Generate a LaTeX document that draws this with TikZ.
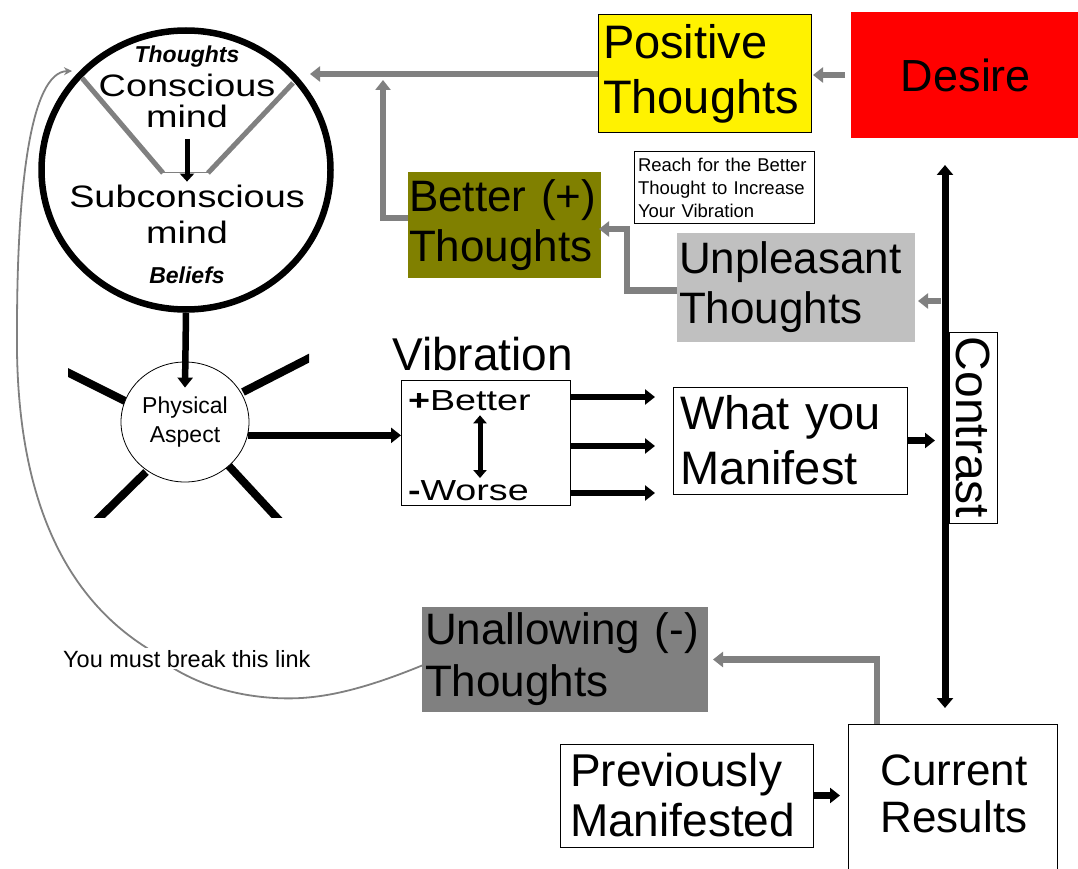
\documentclass[tikz,border=0pt]{standalone}
\usepackage{fontspec}
\setmainfont{Liberation Sans}
\newfontfamily\wideA[FakeStretch=1.22]{Liberation Sans}
\newfontfamily\wideB[FakeStretch=1.3]{Liberation Sans}
\usetikzlibrary{arrows.meta,shapes.geometric,calc}
\definecolor{lgray}{RGB}{128,128,128}
\definecolor{olivebox}{RGB}{128,128,0}
\definecolor{silverbox}{RGB}{192,192,192}
\definecolor{dgraybox}{RGB}{128,128,128}
\newcommand\myfs[2]{\fontsize{#1}{#2}\selectfont}
\begin{document}
\begin{tikzpicture}[x=1pt,y=-1pt,
  box/.style={rectangle, anchor=north west, inner ysep=0pt, outer sep=0pt, align=left},
  framed/.style={draw=black, line width=1pt},
  blk/.style={line width=6.5pt, black, -{Triangle[length=10pt,width=15pt]}},
  garr/.style={line width=6.5pt, lgray, -{Triangle[length=10pt,width=15pt]}},
  ray/.style={line width=8pt, black},
  plain/.style={inner sep=0pt, outer sep=0pt}]
\useasboundingbox (0,0) rectangle (1078,869);
\fill[white] (0,0) rectangle (1078,869);
\clip (0,0) rectangle (1078,869);

% ---- mind circle ----
\node[ellipse, draw=black, line width=6.5pt, minimum width=289pt, minimum height=279pt, inner sep=0pt] (mind) at (186,170) {};
\draw[lgray, line width=5pt] (82,78) -- (163,173);
\draw[lgray, line width=5pt] (293,83) -- (208,173);
\draw[lgray, line width=1pt] (163,173) -- (208,173);
\node[plain, anchor=base, font={\myfs{23}{27}\bfseries\itshape}] (thoughtslbl) at (187,63) {Thoughts};
\node[plain, align=center, font={\wideA\myfs{31}{31}}] (conscious) at (187,101) {Conscious\\mind};
\node[plain, align=center, font={\wideA\myfs{31}{36}}] (subconscious) at (187,214) {Subconscious\\mind};
\node[plain, anchor=base, font={\myfs{23}{27}\bfseries\itshape}] (beliefs) at (187,283) {Beliefs};
\draw[black, line width=5pt, -{Triangle[length=8pt,width=14pt]}, shorten <=11pt, shorten >=3pt] (conscious.south) -- (subconscious.north);

% ---- physical aspect ----
\begin{scope}
\clip (68,330) rectangle (309,517);
\draw[ray] (50,363.5) -- (127,402);
\draw[ray] (243,392) -- (325,350);
\draw[ray] (146,472) -- (85,532);
\draw[ray] (228,465) -- (290,532);
\end{scope}
\node[ellipse, draw=black, line width=0.8pt, fill=white, minimum width=128pt, minimum height=120pt, inner sep=0pt, align=center, font={\myfs{23}{29}}] (phys) at (185,422) {Physical\\Aspect};
\draw[blk] (mind.south) -- ([yshift=-26pt]phys.north);

% ---- vibration ----
\node[plain, anchor=base, font={\myfs{46}{55}}] (vibtitle) at (482.5,370) {Vibration};
\node[box, framed, minimum width=169pt, minimum height=125pt] (vib) at (401,380) {};
\node[plain, anchor=base west, font={\wideB\myfs{29}{34}}] (betterlbl) at (408,410) {\textbf{+}Better};
\node[plain, anchor=base west, font={\wideB\myfs{29}{34}}] (worselbl) at (408,500) {\textbf{-}Worse};
\coordinate (vx) at (480,0);
\draw[black, line width=5pt, {Triangle[length=8pt,width=13pt]}-{Triangle[length=8pt,width=13pt]}, shorten <=5pt, shorten >=2pt] (betterlbl.south -| vx) -- (worselbl.north -| vx);
\draw[blk, line width=7pt] (phys.-12) -- (phys.-12 -| vib.west);
\foreach \dy in {17,66,113} {
  \draw[blk] ([yshift=-\dy pt]vib.north east) -- ++(85,0);
}

% ---- top right ----
\node[box, fill=red, minimum width=230pt, minimum height=126pt, align=center, font={\myfs{45}{54}}] (desire) at (851,12) {Desire};
\node[box, framed, fill=yellow, minimum width=213pt, minimum height=118pt, text width=203pt, inner xsep=5pt, font={\myfs{47}{55}}] (positive) at (598,15) {Positive\\Thoughts};
\node[box, framed, minimum width=180pt, minimum height=71pt, text width=172pt, inner xsep=4pt, font={\myfs{18.5}{23}}] (reach) at (634,152) {Reach for the Better\\Thought to Increase\\Your Vibration};
\node[box, fill=olivebox, minimum width=193pt, minimum height=106pt, text width=191pt, inner xsep=1pt, font={\myfs{44}{50}}] (better) at (408,172) {Better (+)\\Thoughts};
\node[box, fill=silverbox, minimum width=238pt, minimum height=109pt, text width=234pt, inner xsep=2pt, font={\myfs{44}{50}}] (unpleasant) at (677,233) {Unpleasant\\Thoughts};

\coordinate (ptip) at (310,74);
\coordinate (btip) at (383,80);
\coordinate (ucorner) at (627,229);
\draw[garr, shorten <=6pt, shorten >=2pt] (desire.west) -- (desire.west -| positive.east);
\draw[garr] (positive.west) -- (positive.west -| ptip);
\draw[garr] ([yshift=7pt]better.west) -| (btip);
\draw[garr, shorten >=-2pt] ([yshift=-3pt]unpleasant.west) -| (ucorner) -- (ucorner -| better.east);
\draw[garr] ([yshift=-13.5pt,xshift=26pt]unpleasant.east) -- ([yshift=-13.5pt,xshift=3pt]unpleasant.east);

% ---- contrast ----
\coordinate (ctop) at (945,165);
\coordinate (cbot) at (945,708);
\draw[black, line width=7pt, {Triangle[length=10pt,width=16pt]}-{Triangle[length=10pt,width=16pt]}] (ctop) -- (cbot);
\node[framed, fill=white, rotate=-90, minimum width=191pt, minimum height=48pt, inner sep=0pt, font={\myfs{48}{55}}] (contrast) at (973,427.5) {Contrast};

\node[box, framed, minimum width=234pt, minimum height=107pt, text width=220pt, inner xsep=7pt, font={\myfs{47}{55}}] (manifest) at (673,387) {What you\\Manifest};
\draw[blk, shorten >=10pt] (manifest.east) -- (manifest.east -| ctop);

% ---- bottom ----
\node[box, fill=dgraybox, minimum width=286pt, minimum height=105pt, text width=280pt, inner xsep=3pt, font={\myfs{44}{52}}] (unallow) at (422,607) {Unallowing (-)\\Thoughts};
\node[box, framed, minimum width=253pt, minimum height=103pt, text width=233pt, inner xsep=10pt, font={\myfs{46}{50}}] (prev) at (560,744) {Previously\\Manifested};
\node[box, framed, minimum width=209pt, minimum height=160pt] (current) at (848,724) {};
\node[plain, align=center, font={\myfs{44}{47}}] (currenttxt) at (954,794) {Current\\Results};
\draw[garr, shorten >=5pt] ([xshift=-75.5pt]current.north) |- (unallow.east);
\draw[blk, shorten >=8pt] (prev.east) -- (prev.east -| current.west);

% ---- the link ----
\coordinate (linkend) at (72,71);
\draw[lgray, line width=1.8pt, -{Stealth[length=8pt,width=8pt]}] ([yshift=-6pt]unallow.west) .. controls (350,695) and (310,700) .. (275,698) .. controls (220,695) and (175,675) .. (147,648) .. controls (55,590) and (15,480) .. (17,330) .. controls (17,190) and (30,72) .. (linkend);
\node[anchor=base west, fill=white, inner xsep=1pt, inner ysep=2pt, font={\myfs{23.5}{28}}] (linktxt) at (62,667) {You must break this link};
\end{tikzpicture}
\end{document}
